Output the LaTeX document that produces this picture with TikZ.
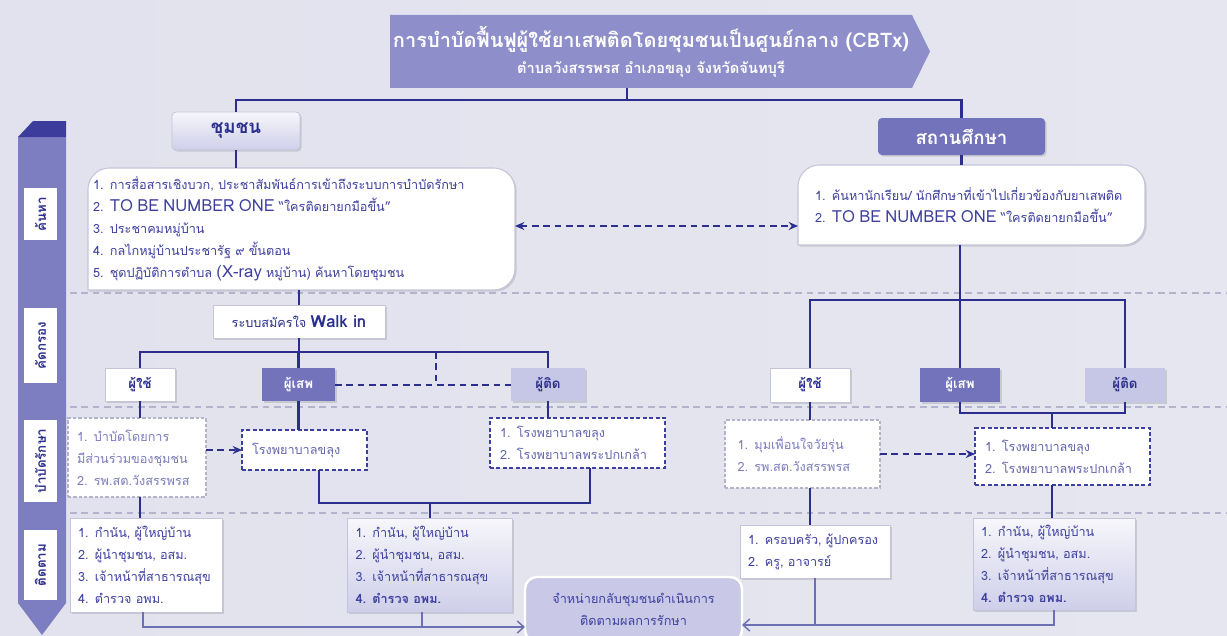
\documentclass[tikz,border=0pt]{standalone}
\usepackage{fontspec}
\usepackage{graphicx}
\setmainfont[Script=Thai]{Loma}
\usetikzlibrary{arrows.meta,shadows,calc}
\pgfdeclarelayer{back}
\pgfdeclarelayer{shapes}
\pgfsetlayers{back,shapes,main}

\definecolor{navy}{HTML}{2B2E8C}
\definecolor{ink}{HTML}{3E40A0}
\definecolor{softink}{HTML}{7C7CBC}
\definecolor{midink}{HTML}{6466AE}
\definecolor{bandc}{HTML}{7D7DC1}
\definecolor{banddark}{HTML}{3C3C9C}
\definecolor{bannerc}{HTML}{8E8ECB}
\definecolor{deep}{HTML}{7373BB}
\definecolor{pale}{HTML}{C6C6E6}
\definecolor{sepc}{HTML}{B3B3CB}
\definecolor{boxline}{HTML}{C4C4DA}
\definecolor{thinc}{HTML}{6E6EB4}
\definecolor{bgl}{HTML}{E2E2EE}
\definecolor{bgm}{HTML}{F3F3F9}
\definecolor{bgr}{HTML}{E6E6F0}
\definecolor{finalc}{HTML}{C9C9E7}

\newcommand\listsz{\fontsize{9.5}{16.5}\selectfont}
\newcommand\bigLat[1]{{\fontsize{12.5}{12}\selectfont #1}}

\begin{document}
\begin{tikzpicture}[x=0.75pt,y=-0.75pt,
  place/.style args={#1/#2/#3/#4}{minimum width={(#3-#1)*0.75pt},
    minimum height={(#4-#2)*0.75pt}, at={({(#1+#3)/2},{(#2+#4)/2})}},
  tw/.style={text width={#1*0.75pt}, align=left},
  base/.style={inner sep=0pt, outer sep=0pt, font=\listsz, text=ink},
  shadowed/.style={drop shadow={shadow xshift=1.2pt, shadow yshift=-1.2pt,
    opacity=0.22, fill=black!60}},
  wbox/.style={base, fill=white, draw=boxline, line width=0.6pt, shadowed},
  gbox/.style={base, top color=white!85!pale, bottom color=pale!85!white,
    draw=boxline, line width=0.6pt, shadowed},
  softdash/.style={base, fill=white, draw=sepc, line width=0.8pt,
    dash pattern=on 2.5pt off 1.5pt, text=softink},
  darkdash/.style={base, fill=white, draw=ink, line width=1.1pt,
    dash pattern=on 3pt off 1.8pt, text=midink},
  catbox/.style={base, shadowed, font=\fontsize{10}{12}\selectfont\bfseries},
  bandlab/.style={base, fill=white, font=\fontsize{10}{12}\selectfont\bfseries, text=navy},
  conn/.style={draw=navy, line width=1.7pt},
  dconn/.style={draw=navy, line width=1.5pt, dash pattern=on 5pt off 3.5pt},
  thinline/.style={draw=thinc, line width=1.1pt},
  sep/.style={draw=sepc, line width=1.5pt, dash pattern=on 5pt off 3.5pt},
  tip/.style={-{Stealth[length=7pt,width=6pt]}},
  barb/.style={-{Straight Barb[length=5pt,width=9pt]}}
]
\begin{pgfonlayer}{back}
  \shade[left color=bgl, middle color=bgm, right color=bgr] (0,0) rectangle (1227,635);
\end{pgfonlayer}
\path[use as bounding box] (0,0) rectangle (1227,635);

% stage separators
\draw[sep] (70,293) -- (1227,293);
\draw[sep] (70,407) -- (1227,407);
\draw[sep] (70,513) -- (1227,513);

% stage ribbon on the left
\fill[bandc] (18,137) -- (66,137) -- (66,603) -- (42,635) -- (18,603) -- cycle;
\fill[banddark] (18,137) -- (33,121) -- (66,121) -- (66,137) -- cycle;
\node[bandlab, place=24/188/57/240] (s1) {\rotatebox{90}{ค้นหา}};
\node[bandlab, place=24/308/57/383] (s2) {\rotatebox{90}{คัดกรอง}};
\node[bandlab, place=24/420/57/502] (s3) {\rotatebox{90}{บำบัดรักษา}};
\node[bandlab, place=24/530/57/600] (s4) {\rotatebox{90}{ติดตาม}};

% title banner
\node[base, place=390/15/912/88, text=white, align=center] (banner)
  {{\fontsize{15}{18}\selectfont\bfseries การบำบัดฟื้นฟูผู้ใช้ยาเสพติดโดยชุมชนเป็นศูนย์กลาง (CBTx)}\\[3pt]
   {\fontsize{11}{13}\selectfont\bfseries ตำบลวังสรรพรส อำเภอขลุง จังหวัดจันทบุรี}};
\begin{pgfonlayer}{shapes}
  \fill[bannerc] (banner.north west) -- (banner.north east) -- ($(banner.east)+(18,0)$)
    -- (banner.south east) -- (banner.south west) -- cycle;
\end{pgfonlayer}

% two branches
\node[gbox, place=172/112/300/150, rounded corners=3pt, text=navy,
  font=\fontsize{14}{16}\selectfont\bfseries] (comm) {ชุมชน};
\node[base, place=878/118/1045/155, fill=deep, rounded corners=3pt, shadowed, text=white,
  font=\fontsize{14}{16}\selectfont\bfseries] (school) {สถานศึกษา};
\coordinate (tj) at (627,100);
\draw[conn] (banner.south -| tj) -- (tj);
\draw[conn] (comm.north) |- (tj) -| (school.north);

% search boxes
\node[base, place=88/168/515/290, tw=417] (L1)
  {1. การสื่อสารเชิงบวก, ประชาสัมพันธ์การเข้าถึงระบบการบำบัดรักษา\\
   2. \bigLat{TO BE NUMBER ONE} “ใครติดยายกมือขึ้น”\\
   3. ประชาคมหมู่บ้าน\\
   4. กลไกหมู่บ้านประชารัฐ ๙ ขั้นตอน\\
   5. ชุดปฏิบัติการตำบล \bigLat{(X-ray} หมู่บ้าน) ค้นหาโดยชุมชน};
\node[base, place=798/165/1145/245, tw=313] (R1)
  {1. ค้นหานักเรียน/ นักศึกษาที่เข้าไปเกี่ยวข้องกับยาเสพติด\\
   2. \bigLat{TO BE NUMBER ONE} “ใครติดยายกมือขึ้น”};
\begin{pgfonlayer}{shapes}
  \path[fill=white, draw=boxline, line width=0.8pt, shadowed]
    (L1.south west) [rounded corners=16pt] -- (L1.north west) -- (L1.north east)
    -- (L1.south east) [sharp corners] -- cycle;
  \path[fill=white, draw=boxline, line width=0.8pt, shadowed]
    (R1.south west) [rounded corners=16pt] -- (R1.north west) -- (R1.north east)
    -- (R1.south east) [sharp corners] -- cycle;
\end{pgfonlayer}
\draw[conn] (comm.south) -- (comm.south |- L1.north);
\draw[conn] (school.south) -- (school.south |- R1.north);
\coordinate (da) at (0,226);
\draw[dconn, {Stealth[length=7pt,width=6pt]}-{Stealth[length=7pt,width=6pt]}]
  (L1.east |- da) -- (R1.west |- da);

% screening, community side
\node[wbox, place=213/305/385/338, text=navy] (walk)
  {ระบบสมัครใจ \bigLat{\bfseries Walk in}};
\draw[conn] (walk.north |- L1.south) -- (walk.north);
\node[catbox, place=105/368/175/401, fill=white, draw=boxline, text=navy] (luser) {ผู้ใช้};
\node[catbox, place=262/368/335/401, fill=deep, text=white] (labuse) {ผู้เสพ};
\node[catbox, place=511/368/585/401, fill=pale, text=navy] (laddict) {ผู้ติด};
\coordinate (lbus) at (298,352);
\draw[conn] (walk.south) -- (walk.south |- lbus);
\draw[conn] (luser.north) |- (lbus) -| (laddict.north);
\draw[conn] (labuse.north) -- (labuse.north |- lbus);
\coordinate (ldj) at (436,352);
\draw[dconn] (ldj) -- (ldj |- labuse.east);
\draw[dconn] (labuse.east) -- (labuse.east -| laddict.west);

% screening, school side
\node[catbox, place=770/368/850/402, fill=white, draw=boxline, text=navy] (ruser) {ผู้ใช้};
\node[catbox, place=920/368/1000/402, fill=deep, text=white] (rabuse) {ผู้เสพ};
\node[catbox, place=1085/368/1165/402, fill=pale, text=navy] (raddict) {ผู้ติด};
\coordinate (rbus) at (960,300);
\draw[conn] (rbus |- R1.south) -- (rbus);
\draw[conn] (ruser.north) |- (rbus) -| (raddict.north);
\draw[conn] (rabuse.north) -- (rabuse.north |- rbus);

% treatment, community side
\node[softdash, place=68/418/206/497, tw=120] (lt1)
  {1. บำบัดโดยการ\\ มีส่วนร่วมของชุมชน\\ 2. รพ.สต.วังสรรพรส};
\node[darkdash, place=242/430/367/470, tw=105] (lt2) {โรงพยาบาลขลุง};
\node[darkdash, place=490/418/665/468, tw=155] (lt3)
  {1. โรงพยาบาลขลุง\\ 2. โรงพยาบาลพระปกเกล้า};
\draw[conn] (luser.south) -- (luser.south |- lt1.north);
\draw[conn] (labuse.south) -- (labuse.south |- lt2.north);
\draw[conn] (laddict.south) -- (laddict.south |- lt3.north);
\draw[dconn, tip] (lt1.east |- lt2.west) -- (lt2.west);

% treatment, school side
\node[softdash, place=725/420/880/488, tw=130] (rt1)
  {1. มุมเพื่อนใจวัยรุ่น\\ 2. รพ.สต.วังสรรพรส};
\node[darkdash, place=975/428/1150/485, tw=155] (rt2)
  {1. โรงพยาบาลขลุง\\ 2. โรงพยาบาลพระปกเกล้า};
\draw[conn] (ruser.south) -- (ruser.south |- rt1.north);
\coordinate (rbr) at (1052,413);
\draw[conn] (rabuse.south) |- (raddict.south |- rbr) -- (raddict.south);
\draw[conn] (rbr) -- (rbr |- rt2.north);
\draw[dconn, tip] (rt1.east) -- (rt1.east -| rt2.west);

% follow-up
\node[wbox, place=70/518/222/612, tw=136] (lf1)
  {1. กำนัน, ผู้ใหญ่บ้าน\\ 2. ผู้นำชุมชน, อสม.\\ 3. เจ้าหน้าที่สาธารณสุข\\ 4. ตำรวจ อพม.};
\node[gbox, place=347/518/512/612, tw=148] (lf2)
  {1. กำนัน, ผู้ใหญ่บ้าน\\ 2. ผู้นำชุมชน, อสม.\\ 3. เจ้าหน้าที่สาธารณสุข\\ \textbf{4. ตำรวจ อพม.}};
\node[wbox, place=740/525/890/578, tw=134] (rf1)
  {1. ครอบครัว, ผู้ปกครอง\\ 2. ครู, อาจารย์};
\node[gbox, place=973/518/1135/610, tw=146] (rf2)
  {1. กำนัน, ผู้ใหญ่บ้าน\\ 2. ผู้นำชุมชน, อสม.\\ 3. เจ้าหน้าที่สาธารณสุข\\ \textbf{4. ตำรวจ อพม.}};
\coordinate (lbr) at (430,503);
\draw[conn] (luser.south |- lt1.south) -- (luser.south |- lf1.north);
\draw[conn] (lt2.south -| 319,0) |- (lbr) -| (lt3.south -| 590,0);
\draw[conn] (lbr) -- (lbr |- lf2.north);
\draw[conn] (ruser.south |- rt1.south) -- (ruser.south |- rf1.north);
\draw[conn] (rbr |- rt2.south) -- (rbr |- rf2.north);

% discharge back to the community
\node[base, place=525/577/742/642, fill=finalc, draw=white, line width=1.8pt,
  rounded corners=9pt, align=center, text=ink] (final)
  {จำหน่ายกลับชุมชนดำเนินการ\\ ติดตามผลการรักษา};
\coordinate (lbot) at (143,627);
\coordinate (rbot) at (1054,625);
\draw[thinline, barb] (lf1.south -| lbot) -- (lbot) -- (lbot -| final.west);
\draw[thinline] (lf2.south -| 422,0) -- (422,627);
\draw[thinline, barb] (rbot |- rf2.south) -- (rbot) -- (rbot -| final.east);
\draw[thinline] (rf1.south) -- (rf1.south |- rbot);
\end{tikzpicture}
\end{document}
